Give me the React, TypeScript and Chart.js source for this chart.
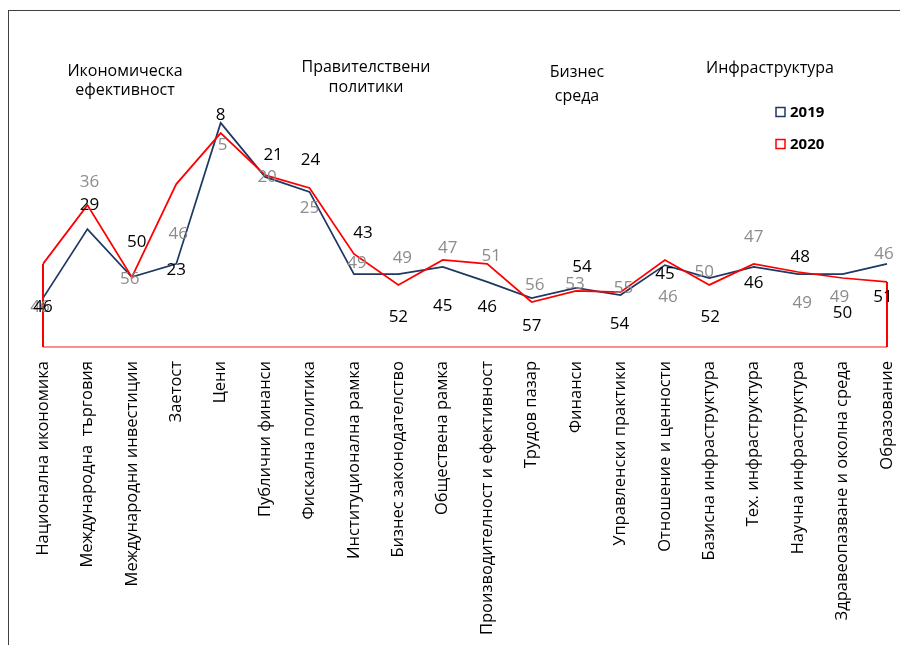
import React, { useEffect, useRef } from "react";
import { Chart, registerables } from "chart.js";

Chart.register(...registerables);

const categories = [
  "Национална икономика",
  "Международна  търговия",
  "Международни инвестиции",
  "Заетост",
  "Цени",
  "Публични финанси",
  "Фискална политика",
  "Институционална рамка",
  "Бизнес законодателство",
  "Обществена рамка",
  "Производителност и ефективност",
  "Трудов пазар",
  "Финанси",
  "Управленски практики",
  "Отношение и ценности",
  "Базисна инфраструктура",
  "Тех. инфраструктура",
  "Научна инфраструктура",
  "Здравеопазване и околна среда",
  "Образование",
];

const seriesLabels = ["2019", "2020"];
const values2019 = [16.3, 39.3, 23.3, 27.7, 74.7, 56.7, 51.7, 24.3, 24.3, 26.7, 21.7, 16.3, 19.7, 17.3, 27.3, 23, 26.7, 24.3, 24.3, 27.7];
const values2020 = [27.7, 47.3, 23.3, 54.3, 71.3, 57.3, 53, 31, 20.7, 29, 27.7, 15, 18.7, 18.3, 29, 20.7, 27.7, 25, 23, 21.7];

const ranksBlack = [46, 29, 50, 23, 8, 21, 24, 43, 52, 45, 46, 57, 54, 54, 45, 52, 46, 48, 50, 51];
const ranksGray = [46, 36, 56, 46, 5, 20, 25, 49, 49, 47, 51, 56, 53, 55, 46, 50, 47, 49, 49, 46];

const groupTitles = [
  ["Икономическа", "ефективност"],
  ["Правителствени", "политики"],
  ["Бизнес", "среда"],
  ["Инфраструктура"],
];

// label placement (pixel offsets from the related line point)
const blackDx = [0, 2, 5, 0, 0, 8, 1, 9, 0, 0, 0, 0, 6, -1, 0, 1, 0, 2, 0, -4];
const blackDy = [9, -24, -35, 6, -8, -22, -32, -41, 43, 39, 25, 28, -21, 29, 9, 39, 16, -17, 39, 33];
const grayDx = [-3, 2, -2, 2, 2, 2, 0, 3, 4, 5, 4, 3, -1, 3, 3, -5, 0, 4, -3, -3];
const grayDy = [43, -23, 2, 50, 12, 2, 20, 9, -27, -12, -8, -17, -7, -4, 37, -13, -27, 31, 19, -28];

const titlePos = [
  { x: 116, y: 60, gap: 19 },
  { x: 357, y: 56, gap: 20 },
  { x: 568, y: 61, gap: 24 },
  { x: 761, y: 57, gap: 20 },
];

const NAVY = "#1f3864";
const RED = "#ff0000";
const FONT = "'Open Sans', 'Noto Sans', sans-serif";

const outlinePlugin = {
  id: "outline",
  afterDatasetsDraw(chart: any) {
    const ctx = chart.ctx;
    const meta = chart.getDatasetMeta(1);
    const pts = meta.data;
    if (!pts.length) return;
    const bottom = chart.scales.y.getPixelForValue(0);
    const first = pts[0];
    const last = pts[pts.length - 1];
    ctx.save();
    ctx.lineWidth = 2;
    ctx.strokeStyle = "#ff8c8c";
    ctx.beginPath();
    ctx.moveTo(first.x, bottom);
    ctx.lineTo(last.x, bottom);
    ctx.stroke();
    ctx.strokeStyle = RED;
    ctx.beginPath();
    ctx.moveTo(first.x, first.y);
    ctx.lineTo(first.x, bottom);
    ctx.moveTo(last.x, bottom);
    ctx.lineTo(last.x, last.y);
    ctx.stroke();
    ctx.restore();
  },
};

const labelPlugin = {
  id: "rankLabels",
  afterDatasetsDraw(chart: any) {
    const ctx = chart.ctx;
    const m0 = chart.getDatasetMeta(0).data;
    const m1 = chart.getDatasetMeta(1).data;
    ctx.save();
    ctx.font = `17px ${FONT}`;
    ctx.textAlign = "center";
    ctx.textBaseline = "middle";
    ctx.fillStyle = "#8c8c8c";
    ranksGray.forEach((r, i) => {
      const p = m1[i];
      ctx.fillText(String(r), p.x + grayDx[i], p.y + grayDy[i]);
    });
    ctx.fillStyle = "#000000";
    ranksBlack.forEach((r, i) => {
      const p = m0[i];
      ctx.fillText(String(r), p.x + blackDx[i], p.y + blackDy[i]);
    });
    // group titles
    ctx.font = `16px ${FONT}`;
    groupTitles.forEach((lines, i) => {
      const t = titlePos[i];
      lines.forEach((ln, j) => ctx.fillText(ln, t.x, t.y + j * t.gap));
    });
    // legend
    const colors = [NAVY, RED];
    ctx.font = `bold 15px ${FONT}`;
    ctx.textAlign = "left";
    seriesLabels.forEach((lab, i) => {
      const y = 101 + i * 32;
      ctx.lineWidth = 1.5;
      ctx.strokeStyle = colors[i];
      ctx.strokeRect(767, y - 4.5, 9, 9);
      ctx.fillStyle = "#000";
      ctx.fillText(lab, 781, y + 1);
    });
    ctx.restore();
  },
};

export default function App() {
  const ref = useRef<HTMLCanvasElement>(null);
  useEffect(() => {
    if (!ref.current) return;
    const chart = new Chart(ref.current, {
      type: "line",
      data: {
        labels: categories,
        datasets: [
          {
            label: seriesLabels[0],
            data: values2019,
            borderColor: NAVY,
            borderWidth: 1.75,
            pointRadius: 0,
            tension: 0,
            order: 2,
          },
          {
            label: seriesLabels[1],
            data: values2020,
            borderColor: RED,
            borderWidth: 1.75,
            pointRadius: 0,
            tension: 0,
            order: 1,
          },
        ],
      },
      options: {
        animation: false,
        responsive: false,
        layout: { padding: { left: 34, right: 21, top: 36, bottom: 0 } },
        plugins: { legend: { display: false }, tooltip: { enabled: false } },
        scales: {
          x: {
            offset: false,
            grid: { display: false, drawTicks: false },
            border: { display: false },
            ticks: {
              autoSkip: false,
              minRotation: 90,
              maxRotation: 90,
              padding: 14,
              color: "#000",
              font: { family: FONT, size: 16.5 },
            },
            afterFit: (s: any) => {
              s.height = 298;
              s.paddingLeft = 0;
              s.paddingRight = 0;
            },
          },
          y: {
            display: false,
            min: 0,
            max: 100,
          },
        },
      },
      plugins: [outlinePlugin, labelPlugin],
    });
    return () => chart.destroy();
  }, []);
  return (
    <div style={{ paddingTop: 2 }}>
      <div
        style={{
          width: 899,
          height: 634,
          borderTop: "1px solid #404040",
          borderLeft: "1px solid #404040",
          background: "#fff",
        }}
      >
        <canvas ref={ref} width={899} height={634} style={{ display: "block" }} />
      </div>
    </div>
  );
}
